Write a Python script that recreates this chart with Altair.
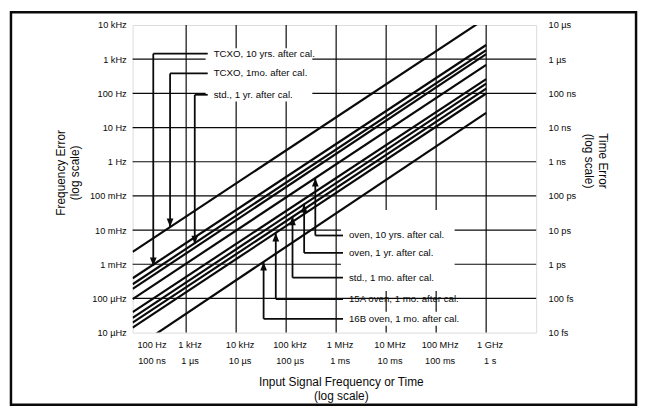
import math
import altair as alt
import pandas as pd

# ---------------- data ----------------
x_ticks = [1e2, 1e3, 1e4, 1e5, 1e6, 1e7, 1e8, 1e9]
x_freq_labels = ["100 Hz", "1 kHz", "10 kHz", "100 kHz", "1 MHz", "10 MHz", "100 MHz", "1 GHz"]
x_time_labels = ["100 ns", "1 µs", "10 µs", "100 µs", "1 ms", "10 ms", "100 ms", "1 s"]
x_grid = [1e3, 1e4, 1e5, 1e6, 1e7, 1e8, 1e9]
x_domain = [85, 1e10]

y_ticks = [1e-5, 1e-4, 1e-3, 1e-2, 1e-1, 1, 10, 100, 1e3, 1e4]
y_freq_labels = ["10 µHz", "100 µHz", "1 mHz", "10 mHz", "100 mHz", "1 Hz", "10 Hz", "100 Hz", "1 kHz", "10 kHz"]
y_time_labels = ["10 fs", "100 fs", "1 ps", "10 ps", "100 ps", "1 ns", "10 ns", "100 ns", "1 µs", "10 µs"]
y_grid = [1e-4, 1e-3, 1e-2, 1e-1, 1, 10, 100, 1e3]
y_domain = [1e-5, 1e4]

x_title = ["Input Signal Frequency or Time", "(log scale)"]
y_title_left = ["Frequency Error", "(log scale)"]
y_title_right = ["Time Error", "(log scale)"]

# diagonal error lines: error at the left edge frequency and at 1 GHz
line_ids = ["A", "B", "C", "D", "E", "F", "G", "H", "I", "J"]
line_f_start = 85
line_f_end = 1e9
line_err_start = [2.3e-3, 3.9e-4, 2.6e-4, 1.9e-4, 9.6e-5, 4.0e-5, 2.7e-5, 1.95e-5, 1.4e-5, 3.2e-6]
line_err_end = [1.6e4, 2.6e3, 1.85e3, 1.4e3, 680, 260, 193, 138, 99, 27]

# annotations
ann_text = ["TCXO, 10 yrs. after cal.", "TCXO, 1mo. after cal.", "std., 1 yr. after cal.",
            "oven, 10 yrs. after cal.", "oven, 1 yr. after cal.", "std., 1 mo. after cal.",
            "15A oven, 1 mo. after cal.", "16B oven, 1 mo. after cal."]
ann_arrow_f = [220, 477, 1486, 383e3, 229e3, 134e3, 62e3, 35.4e3]
ann_tip_err = [9.0e-4, 0.0124, 3.9e-3, 0.33, 0.058, 0.0244, 8.2e-3, 1.15e-3]
ann_label_err = [1450, 383, 91, 6.95e-3, 2.15e-3, 4.07e-4, 9.6e-5, 2.54e-5]
ann_label_f = [2.7e3, 2.7e3, 2.7e3, 1.37e6, 1.37e6, 1.37e6, 1.37e6, 1.37e6]
ann_dir = ["down", "down", "down", "up", "up", "up", "up", "up"]

# white panels behind the annotation text blocks
panel_f1 = [2.45e3, 1.25e6, 1.25e6]
panel_f2 = [3.34e5, 2.34e8, 2.34e8]
panel_e1 = [58, 1.64e-4, 1.59e-5]
panel_e2 = [2100, 0.0385, 4.05e-5]

# ---------------- styling ----------------
FONT = "'Liberation Sans', Arial, Helvetica, sans-serif"
INK = "#0a0a0a"
W, H = 408, 311

xs = alt.Scale(type="log", domain=x_domain, nice=False)
ys = alt.Scale(type="log", domain=y_domain, nice=False)


def chain(vals, labs):
    expr = "''"
    for v, l in reversed(list(zip(vals, labs))):
        expr = f"(abs(log(datum.value)/LN10 - {math.log10(v):.4f}) < 0.01 ? {l} : {expr})"
    return expr


yl_expr = chain(y_ticks, [f"'{a}'" for a in y_freq_labels])
yr_expr = chain(y_ticks, [f"'{a}'" for a in y_time_labels])

left_axis = alt.Axis(values=y_ticks, labelExpr=yl_expr, grid=False, ticks=False, domain=False,
                     orient="left", labelFont=FONT, labelFontSize=9.3, labelColor=INK,
                     labelPadding=6.5, labelFlush=False, labelOverlap=False,
                     title=y_title_left, titleFont=FONT, titleFontSize=12,
                     titleFontWeight="normal", titleColor=INK, titleAngle=-90, titleX=-78, titleY=149,
                     titleBaseline="top", titleAlign="center", titleLineHeight=14)

right_axis = alt.Axis(values=y_ticks, labelExpr=yr_expr, grid=False, ticks=False, domain=False,
                      orient="right", labelFont=FONT, labelFontSize=9.3, labelColor=INK,
                      labelPadding=12, labelFlush=False, labelOverlap=False,
                      title=y_title_right, titleFont=FONT, titleFontSize=12,
                      titleFontWeight="normal", titleColor=INK, titleAngle=90, titleX=72, titleY=137,
                      titleBaseline="top", titleAlign="center", titleLineHeight=14)

# ---------------- tables ----------------
rows = []
for lid, e0, e1 in zip(line_ids, line_err_start, line_err_end):
    rows.append({"line": lid, "f": line_f_start, "err": e0, "o": 0})
    rows.append({"line": lid, "f": line_f_end, "err": e1, "o": 1})
lines_df = pd.DataFrame(rows)

ann_df = pd.DataFrame({"text": ann_text, "af": ann_arrow_f, "tip": ann_tip_err,
                       "le": ann_label_err, "lf": ann_label_f, "dir": ann_dir})
panel_df = pd.DataFrame({"f1": panel_f1, "f2": panel_f2, "e1": panel_e1, "e2": panel_e2})
xlab_df = pd.DataFrame({"f": x_ticks, "fl": x_freq_labels, "tl": x_time_labels})

# ---------------- layers ----------------
vgrid = alt.Chart(pd.DataFrame({"f": x_grid})).mark_rule(color=INK, strokeWidth=1.2).encode(
    x=alt.X("f:Q", scale=xs, axis=None))

hgrid = alt.Chart(pd.DataFrame({"v": y_grid})).mark_rule(color=INK, strokeWidth=1.2).encode(
    y=alt.Y("v:Q", scale=ys, axis=left_axis))

panels = alt.Chart(panel_df).mark_rect(color="white", opacity=1).encode(
    x=alt.X("f1:Q", scale=xs, axis=None), x2="f2:Q",
    y=alt.Y("e1:Q", scale=ys, axis=None), y2="e2:Q")

lines = alt.Chart(lines_df).mark_line(clip=True, color=INK, strokeWidth=2.2).encode(
    x=alt.X("f:Q", scale=xs, axis=None),
    y=alt.Y("err:Q", scale=ys, axis=right_axis),
    detail="line:N", order="o:Q")

h_leader = alt.Chart(ann_df).mark_rule(color=INK, strokeWidth=1.8).encode(
    x=alt.X("af:Q", scale=xs, axis=None), x2="lf:Q",
    y=alt.Y("le:Q", scale=ys, axis=None))

v_leader = alt.Chart(ann_df).mark_rule(color=INK, strokeWidth=1.8).encode(
    x=alt.X("af:Q", scale=xs, axis=None),
    y=alt.Y("le:Q", scale=ys, axis=None), y2="tip:Q")

arrows = alt.Chart(ann_df).mark_point(filled=True, color=INK, opacity=1, strokeWidth=0).encode(
    x=alt.X("af:Q", scale=xs, axis=None),
    y=alt.Y("tip:Q", scale=ys, axis=None),
    shape=alt.Shape("dir:N", scale=alt.Scale(domain=["down", "up"],
                                             range=["M0,0L-0.4,-1L0.4,-1Z", "M0,0L-0.4,1L0.4,1Z"]),
                    legend=None),
    size=alt.value(289))

labels = alt.Chart(ann_df).mark_text(align="left", baseline="middle", dx=6, font=FONT,
                                     fontSize=9.8, color=INK).encode(
    x=alt.X("lf:Q", scale=xs, axis=None),
    y=alt.Y("le:Q", scale=ys, axis=None),
    text="text:N")


def xlab(field, ypix, first):
    base = alt.Chart(xlab_df).transform_filter(
        "datum.f < 150" if first else "datum.f >= 150")
    return base.mark_text(align="center", baseline="middle", dx=16 if first else 4,
                          font=FONT, fontSize=9.3, color=INK).encode(
        x=alt.X("f:Q", scale=xs, axis=None), y=alt.value(ypix), text=f"{field}:N")


xl1 = xlab("fl", H + 13, True)
xl2 = xlab("fl", H + 13, False)
xl3 = xlab("tl", H + 28.6, True)
xl4 = xlab("tl", H + 28.6, False)

xtitle = alt.Chart(pd.DataFrame({"t": [x_title]})).mark_text(
    align="center", baseline="middle", font=FONT, fontSize=12, color=INK, lineHeight=14.5).encode(
    x=alt.value(211), y=alt.value(H + 49.5), text="t")

border = alt.Chart(pd.DataFrame({"a": [0]})).mark_rect(fillOpacity=0, stroke=INK, strokeWidth=2.5).encode(
    x=alt.value(-123), x2=alt.value(509), y=alt.value(-13), y2=alt.value(384))

chart = alt.layer(vgrid, hgrid, panels, lines, h_leader, v_leader, arrows, labels,
                  xl1, xl2, xl3, xl4, xtitle, border).properties(
    width=W, height=H,
    padding={"left": 126, "top": 15, "right": 106, "bottom": 74},
    autosize=alt.AutoSizeParams(type="none"),
).resolve_axis(y="independent").configure_view(stroke=INK, strokeWidth=1.5).configure(background="white")

chart.save("out.html", embed_options={"renderer": "svg", "actions": False})
